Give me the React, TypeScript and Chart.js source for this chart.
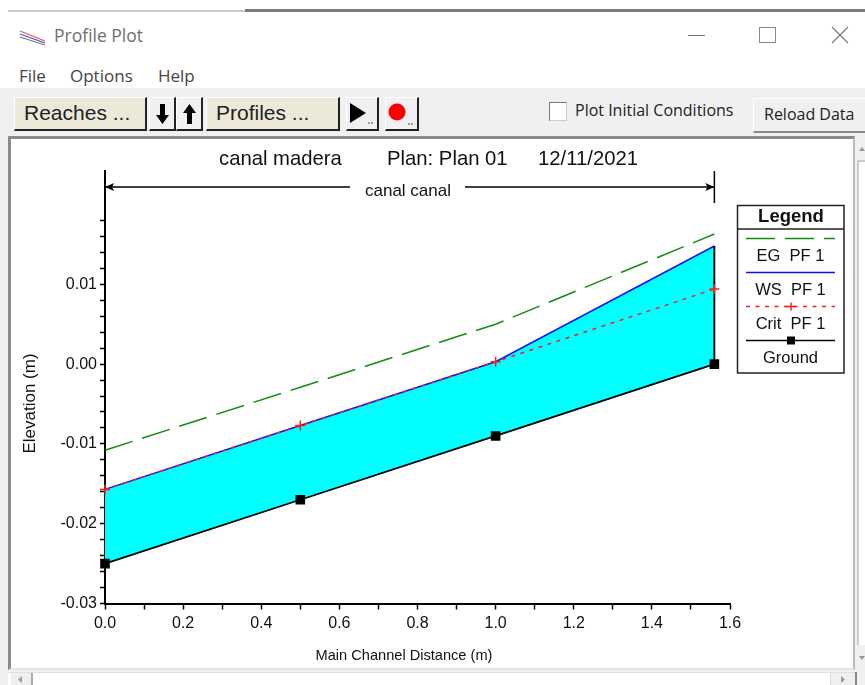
import React, { useEffect, useRef } from "react";
import { Chart, registerables } from "chart.js";

Chart.register(...registerables);

const distances = [0, 0.5, 1.0, 1.56];
const egValues = [-0.0108, -0.0029, 0.005, 0.0163];
const wsValues = [-0.0157, -0.0077, 0.0003, 0.0148];
const critValues = [-0.0157, -0.0077, 0.0003, 0.0094];
const groundValues = [-0.025, -0.017, -0.009, 0.0];

const xTickValues = [0, 0.1, 0.2, 0.3, 0.4, 0.5, 0.6, 0.7, 0.8, 0.9, 1.0, 1.1, 1.2, 1.3, 1.4, 1.5, 1.6];
const xLabelled = ["0.0", "0.2", "0.4", "0.6", "0.8", "1.0", "1.2", "1.4", "1.6"];
const yTickValues = [
  -0.03, -0.028, -0.026, -0.024, -0.022, -0.02, -0.018, -0.016, -0.014, -0.012, -0.01, -0.008, -0.006, -0.004,
  -0.002, 0, 0.002, 0.004, 0.006, 0.008, 0.01, 0.012, 0.014, 0.016, 0.018,
];
const yLabelled = ["-0.03", "-0.02", "-0.01", "0.00", "0.01"];

const FONT = '"Liberation Sans", Arial, sans-serif';
const UI = '"Open Sans", "Noto Sans", sans-serif';
const INK = "#111111";

const xy = (ys: number[]) => ys.map((y, i) => ({ x: distances[i], y }));

const annotations = {
  id: "annotations",
  afterDatasetsDraw(chart: any) {
    const { ctx, chartArea, scales } = chart;
    const text = (s: string, x: number, y: number, size: number, align: CanvasTextAlign = "center", weight = "") => {
      ctx.font = `${weight} ${size}px ${FONT}`;
      ctx.textAlign = align;
      ctx.textBaseline = "middle";
      ctx.fillStyle = INK;
      ctx.fillText(s, x, y);
    };
    ctx.save();
    // Title
    text("canal madera", 219, 159, 20.3, "left");
    text("Plan: Plan 01", 387, 159, 20.3, "left");
    text("12/11/2021", 538, 159, 20.3, "left");
    // Axis titles
    text("Main Channel Distance (m)", 404, 656, 14.6);
    ctx.save();
    ctx.translate(30, 403.5);
    ctx.rotate(-Math.PI / 2);
    text("Elevation (m)", 0, 0, 17);
    ctx.restore();

    // Reach arrow
    const x0 = scales.x.getPixelForValue(distances[0]);
    const x1 = scales.x.getPixelForValue(distances[distances.length - 1]);
    const ay = 187;
    ctx.strokeStyle = "#000";
    ctx.fillStyle = "#000";
    ctx.lineWidth = 1.5;
    ctx.beginPath();
    ctx.moveTo(x0, ay);
    ctx.lineTo(350, ay);
    ctx.moveTo(465, ay);
    ctx.lineTo(x1, ay);
    ctx.moveTo(x1, chartArea.top);
    ctx.lineTo(x1, 203);
    ctx.stroke();
    ctx.beginPath();
    ctx.moveTo(x0, ay);
    ctx.lineTo(x0 + 9, ay - 4);
    ctx.lineTo(x0 + 7, ay);
    ctx.lineTo(x0 + 9, ay + 4);
    ctx.closePath();
    ctx.moveTo(x1, ay);
    ctx.lineTo(x1 - 9, ay - 4);
    ctx.lineTo(x1 - 7, ay);
    ctx.lineTo(x1 - 9, ay + 4);
    ctx.closePath();
    ctx.fill();
    text("canal canal", 408, 191, 17);

    // Legend
    const lx = 737.5, lr = 844, lt = 205.5, lb = 373;
    ctx.fillStyle = "#fff";
    ctx.fillRect(lx, lt, lr - lx, lb - lt);
    ctx.strokeStyle = "#222";
    ctx.lineWidth = 1.5;
    ctx.setLineDash([]);
    ctx.strokeRect(lx, lt, lr - lx, lb - lt);
    ctx.beginPath();
    ctx.moveTo(lx, 229);
    ctx.lineTo(lr, 229);
    ctx.stroke();
    text("Legend", 791, 216.5, 18.5, "center", "bold");
    const rows = chart.data.datasets.filter((d: any) => d.legendRow !== undefined);
    rows.forEach((d: any) => {
      const y = 238.5 + d.legendRow * 34;
      ctx.strokeStyle = d.borderColor;
      ctx.lineWidth = 1.5;
      ctx.setLineDash(d.borderDash || []);
      ctx.beginPath();
      ctx.moveTo(746, y);
      ctx.lineTo(835, y);
      ctx.stroke();
      ctx.setLineDash([]);
      if (d.pointStyle === "rect") {
        ctx.fillStyle = "#000";
        ctx.fillRect(787, y - 4, 8, 8);
      } else if (d.pointStyle === "cross") {
        ctx.strokeStyle = d.pointBorderColor;
        ctx.beginPath();
        ctx.moveTo(786, y);
        ctx.lineTo(796, y);
        ctx.moveTo(791, y - 4);
        ctx.lineTo(791, y + 4);
        ctx.stroke();
      }
      text(d.label, 790.5, y + 17.5, 16.5);
    });
    ctx.restore();
  },
};

function Box({ l, t, w, h, style, children }: any) {
  return (
    <div style={{ position: "absolute", left: l, top: t, width: w, height: h, boxSizing: "border-box", ...style }}>
      {children}
    </div>
  );
}

function Btn({ l, w, label, bg = "#ece9d8", children }: any) {
  return (
    <Box
      l={l}
      t={97}
      w={w}
      h={34}
      style={{
        background: bg,
        borderTop: "1px solid #fff",
        borderLeft: "1px solid #fff",
        borderRight: "2px solid #222",
        borderBottom: "2px solid #222",
        font: `21px ${FONT}`,
        color: "#222",
        lineHeight: "30px",
        paddingLeft: 9,
        whiteSpace: "nowrap",
      }}
    >
      {label}
      {children}
    </Box>
  );
}

function Label({ l, t, size, color = "#444", text, font = UI }: any) {
  return (
    <div style={{ position: "absolute", left: l, top: t, font: `${size}px ${font}`, color, whiteSpace: "nowrap", lineHeight: `${size + 4}px` }}>
      {text}
    </div>
  );
}

export default function App() {
  const ref = useRef<HTMLCanvasElement>(null);

  useEffect(() => {
    document.body.style.margin = "0";
    const chart = new Chart(ref.current as HTMLCanvasElement, {
      type: "scatter",
      data: {
        datasets: [
          {
            label: "EG  PF 1",
            data: xy(egValues),
            showLine: true,
            order: 4,
            borderColor: "#118c11",
            borderWidth: 1.5,
            borderDash: [29, 10],
            pointRadius: 0,
            clip: false,
            legendRow: 0,
          },
          {
            label: "WS  PF 1",
            data: xy(wsValues),
            showLine: true,
            order: 3,
            borderColor: "#1010f0",
            borderWidth: 1.5,
            pointRadius: 0,
            backgroundColor: "#00ffff",
            fill: { target: 3 },
            clip: false,
            legendRow: 1,
          },
          {
            label: "Crit  PF 1",
            data: xy(critValues),
            showLine: true,
            order: 0,
            borderColor: "#ff1a1a",
            borderWidth: 1.5,
            borderDash: [4, 5.5],
            pointStyle: "cross",
            pointRadius: 5,
            pointBorderColor: "#ff1a1a",
            pointBorderWidth: 1.5,
            clip: false,
            legendRow: 2,
          },
          {
            label: "Ground",
            data: xy(groundValues),
            showLine: true,
            order: 1,
            borderColor: "#000000",
            borderWidth: 1.8,
            pointStyle: "rect",
            pointRadius: 5.5,
            pointBackgroundColor: "#000000",
            pointBorderColor: "#000000",
            clip: false,
            legendRow: 3,
          },
          {
            label: "End wall",
            data: [
              { x: distances[3], y: wsValues[3] },
              { x: distances[3], y: groundValues[3] },
            ],
            showLine: true,
            order: 2,
            borderColor: "#000000",
            borderWidth: 1.8,
            pointRadius: 0,
            clip: false,
          },
        ] as any,
      },
      options: {
        animation: false,
        responsive: false,
        layout: { padding: { left: 0, right: 135, top: 171, bottom: 0 } },
        plugins: {
          legend: { display: false },
          title: { display: false },
          tooltip: { enabled: false },
          filler: { drawTime: "beforeDatasetsDraw" },
        },
        scales: {
          x: {
            type: "linear",
            min: 0,
            max: 1.6,
            border: { color: "#000", width: 2 },
            grid: { drawOnChartArea: false, drawTicks: true, tickLength: 6, tickColor: "#000", tickWidth: 1.5 },
            afterBuildTicks: (axis: any) => {
              axis.ticks = xTickValues.map((value) => ({ value }));
            },
            afterFit: (axis: any) => {
              axis.height = 81.5;
            },
            ticks: {
              autoSkip: false,
              maxRotation: 0,
              padding: 4,
              color: INK,
              font: { family: FONT, size: 16 },
              callback: (v: any) => {
                const s = Number(v).toFixed(1);
                return xLabelled.includes(s) ? s : "";
              },
            },
          },
          y: {
            type: "linear",
            min: -0.03,
            max: 0.0242,
            border: { color: "#000", width: 2 },
            grid: { drawOnChartArea: false, drawTicks: true, tickLength: 5, tickColor: "#000", tickWidth: 1.5 },
            afterBuildTicks: (axis: any) => {
              axis.ticks = yTickValues.map((value) => ({ value }));
            },
            afterFit: (axis: any) => {
              axis.width = 105;
            },
            ticks: {
              autoSkip: false,
              padding: 3,
              color: INK,
              font: { family: FONT, size: 16 },
              callback: (v: any) => {
                const s = (Math.abs(Number(v)) < 1e-9 ? 0 : Number(v)).toFixed(2);
                return yLabelled.includes(s) && Math.abs(Number(v) - Number(s)) < 1e-6 ? s : "";
              },
            },
          },
        },
      },
      plugins: [annotations],
    } as any);
    return () => chart.destroy();
  }, []);

  return (
    <div style={{ position: "fixed", left: 0, top: 0, width: 865, height: 685, overflow: "hidden", background: "#fff" }}>
      {/* remains of the window behind */}
      <Box l={245} t={9} w={620} h={3} style={{ background: "#7a7a7a" }} />
      <Box l={8} t={10} w={237} h={2} style={{ background: "#c9c9c9" }} />
      {/* title bar */}
      <svg style={{ position: "absolute", left: 19, top: 28 }} width="30" height="18">
        <path d="M1 3 L26 13" stroke="#e05a5a" strokeWidth="1.2" />
        <path d="M1 6 L26 15" stroke="#4a4ae0" strokeWidth="1.2" />
        <path d="M1 9 L26 17" stroke="#777" strokeWidth="1.2" />
      </svg>
      <Label l={54} t={25} size={17.5} color="#707070" text="Profile Plot" />
      <Box l={688} t={35} w={17} h={1} style={{ background: "#777" }} />
      <Box l={759} t={27} w={17} h={16} style={{ border: "1px solid #888" }} />
      <svg style={{ position: "absolute", left: 831, top: 26 }} width="18" height="18">
        <path d="M1 1 L17 17 M17 1 L1 17" stroke="#777" strokeWidth="1.1" />
      </svg>
      {/* menu */}
      <Label l={19} t={65} size={17} text="File" />
      <Label l={70} t={65} size={17} text="Options" />
      <Label l={158} t={65} size={17} text="Help" />
      {/* toolbar */}
      <Box l={0} t={88} w={865} h={50} style={{ background: "#f0f0f0" }} />
      <Btn l={14} w={133} label="Reaches ..." />
      <Btn l={149} w={27} bg="#f0f0f0">
        <svg style={{ position: "absolute", left: 6, top: 6 }} width="13" height="20">
          <path d="M4 0 H9 V11 H13 L6.5 20 L0 11 H4 Z" fill="#000" />
        </svg>
      </Btn>
      <Btn l={176} w={27} bg="#f0f0f0">
        <svg style={{ position: "absolute", left: 6, top: 6 }} width="13" height="20">
          <path d="M4 20 H9 V9 H13 L6.5 0 L0 9 H4 Z" fill="#000" />
        </svg>
      </Btn>
      <Btn l={206} w={134} label="Profiles ..." />
      <Btn l={346} w={33} bg="#f0f0f0">
        <svg style={{ position: "absolute", left: 2, top: 4 }} width="28" height="24">
          <path d="M1 1 L17 11 L1 21 Z" fill="#000" />
          <circle cx="20" cy="21" r="0.8" fill="#333" />
          <circle cx="23" cy="21" r="0.8" fill="#333" />
        </svg>
      </Btn>
      <Btn l={385} w={34} bg="#f0f0f0">
        <svg style={{ position: "absolute", left: 1, top: 3 }} width="30" height="26">
          <circle cx="10" cy="11" r="8.5" fill="#ff0000" />
          <circle cx="22" cy="23" r="0.8" fill="#333" />
          <circle cx="25" cy="23" r="0.8" fill="#333" />
        </svg>
      </Btn>
      <Box l={549} t={102} w={18} h={19} style={{ background: "#fff", border: "1px solid #777", borderRight: "1px solid #ccc", borderBottom: "1px solid #ccc" }} />
      <Label l={575} t={100} size={16} color="#222" text="Plot Initial Conditions" />
      <Box l={753} t={98} w={112} h={35} style={{ background: "#f0f0f0", borderTop: "1px solid #fff", borderLeft: "1px solid #fff", borderBottom: "2px solid #888" }}>
        <Label l={10} t={5} size={16} color="#222" text="Reload Data" />
      </Box>
      {/* plot frame */}
      <Box l={0} t={136} w={865} h={549} style={{ background: "#f0f0f0" }} />
      <Box l={8} t={136} w={847} h={534} style={{ background: "#fff", borderLeft: "3px solid #8a8a8a", borderTop: "3px solid #8a8a8a", borderRight: "2px solid #bbb", borderBottom: "2px solid #e4e4e4" }} />
      {/* vertical scrollbar */}
      <Box l={857} t={160} w={8} h={485} style={{ background: "#fff", borderLeft: "2px solid #ccc", borderTop: "2px solid #ccc" }} />
      <svg style={{ position: "absolute", left: 859, top: 146 }} width="6" height="6">
        <path d="M0 5 L3 1 L6 5 Z" fill="#999" />
      </svg>
      <svg style={{ position: "absolute", left: 859, top: 655 }} width="6" height="6">
        <path d="M0 1 L6 1 L3 5 Z" fill="#999" />
      </svg>
      {/* horizontal scrollbar */}
      <Box l={8} t={672} w={847} h={13} style={{ background: "#fff", borderTop: "1px solid #e0e0e0" }} />
      <Box l={11} t={673} w={22} h={12} style={{ background: "#efefef", borderRight: "2px solid #aaa" }} />
      <Box l={830} t={673} w={25} h={12} style={{ background: "#efefef", borderLeft: "1px solid #ddd" }} />
      <Box l={855} t={672} w={2} h={13} style={{ background: "#888" }} />
      <svg style={{ position: "absolute", left: 17, top: 675 }} width="6" height="9">
        <path d="M5 1 L5 8 L1 4.5 Z" fill="#999" />
      </svg>
      <svg style={{ position: "absolute", left: 840, top: 675 }} width="6" height="9">
        <path d="M1 1 L1 8 L5 4.5 Z" fill="#999" />
      </svg>
      <canvas ref={ref} width={865} height={685} style={{ position: "absolute", left: 0, top: 0, display: "block" }} />
    </div>
  );
}
